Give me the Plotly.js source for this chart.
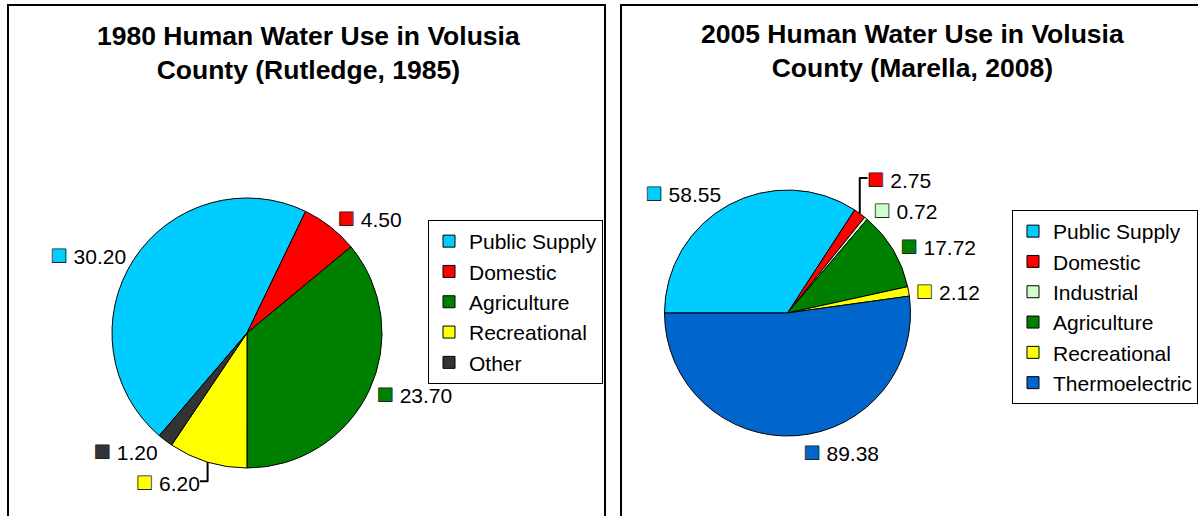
<!DOCTYPE html>
<html>
<head>
<meta charset="utf-8">
<script src="https://cdn.plot.ly/plotly-3.0.1.min.js"></script>
<style>
  html, body { margin: 0; padding: 0; background: #fff; }
  #chart { width: 1198px; height: 516px; }
</style>
</head>
<body>
<div id="chart"></div>
<script>
// ---- data ----
const labels1980 = ["Public Supply", "Domestic", "Agriculture", "Recreational", "Other"];
const values1980 = [30.20, 4.50, 23.70, 6.20, 1.20];
const colors1980 = ["#00CCFF", "#FF0000", "#008000", "#FFFF00", "#333333"];

const labels2005 = ["Public Supply", "Domestic", "Industrial", "Agriculture", "Recreational", "Thermoelectric"];
const values2005 = [58.55, 2.75, 0.72, 17.72, 2.12, 89.38];
const colors2005 = ["#00CCFF", "#FF0000", "#CCFFCC", "#008000", "#FFFF00", "#0066CC"];

const title1980 = "1980 Human Water Use in Volusia<br>County (Rutledge, 1985)";
const title2005 = "2005 Human Water Use in Volusia<br>County (Marella, 2008)";

// ---- helpers ----
const W = 1198, H = 516;
const px = x => x / W;
const py = y => (H - y) / H;
const FONT = "Liberation Sans, Arial, sans-serif";

function templates(colors) {
  return colors.map(c =>
    '<span style="color:' + c + ';stroke:#222;stroke-width:0.8px;font-size:28px">\u25A0</span> %{value:.2f}');
}

const trace1980 = {
  type: "pie",
  labels: labels1980,
  values: values1980,
  sort: false,
  direction: "clockwise",
  rotation: -139.5,
  marker: { colors: colors1980, line: { color: "#000", width: 1 } },
  textposition: "outside",
  texttemplate: templates(colors1980),
  textfont: { family: FONT, size: 21, color: "#000" },
  hoverinfo: "label+value",
  domain: { x: [px(112), px(382)], y: [py(468), py(198)] },
  automargin: false,
  legend: "legend",
  legendgroup: "y1980"
};

const trace2005 = {
  type: "pie",
  labels: labels2005,
  values: values2005,
  sort: false,
  direction: "clockwise",
  rotation: -90,
  marker: { colors: colors2005, line: { color: "#000", width: 1 } },
  textposition: "outside",
  texttemplate: templates(colors2005),
  textfont: { family: FONT, size: 21, color: "#000" },
  hoverinfo: "label+value",
  domain: { x: [px(664.5), px(910.5)], y: [py(436), py(190)] },
  automargin: false,
  legend: "legend2",
  legendgroup: "y2005"
};

const legendStyle = {
  font: { family: FONT, size: 21, color: "#000" },
  bgcolor: "#fff",
  bordercolor: "#000",
  borderwidth: 1,
  itemwidth: 30,
  xanchor: "right",
  yanchor: "middle",
  traceorder: "normal"
};

const layout = {
  width: W,
  height: H,
  margin: { l: 0, r: 0, t: 0, b: 0, autoexpand: false },
  paper_bgcolor: "#fff",
  plot_bgcolor: "#fff",
  showlegend: true,
  legend: Object.assign({}, legendStyle, { x: px(603), y: py(302) }),
  legend2: Object.assign({}, legendStyle, { x: px(1198), y: py(307) }),
  shapes: [
    { type: "rect", xref: "paper", yref: "paper",
      x0: px(8), x1: px(605), y0: -0.05, y1: py(5),
      line: { color: "#000", width: 2 }, fillcolor: "rgba(0,0,0,0)" },
    { type: "rect", xref: "paper", yref: "paper",
      x0: px(621), x1: 1.05, y0: -0.05, y1: py(5),
      line: { color: "#000", width: 2 }, fillcolor: "rgba(0,0,0,0)" }
  ],
  annotations: [
    { text: "<b>" + title1980 + "</b>", xref: "paper", yref: "paper",
      x: px(308), y: py(53), xanchor: "center", yanchor: "middle",
      showarrow: false, font: { family: FONT, size: 26.5, color: "#000" } },
    { text: "<b>" + title2005 + "</b>", xref: "paper", yref: "paper",
      x: px(913), y: py(51), xanchor: "center", yanchor: "middle",
      showarrow: false, font: { family: FONT, size: 26.5, color: "#000" } }
  ]
};

Plotly.newPlot("chart", [trace1980, trace2005], layout, { displayModeBar: false, staticPlot: true });
</script>
</body>
</html>
